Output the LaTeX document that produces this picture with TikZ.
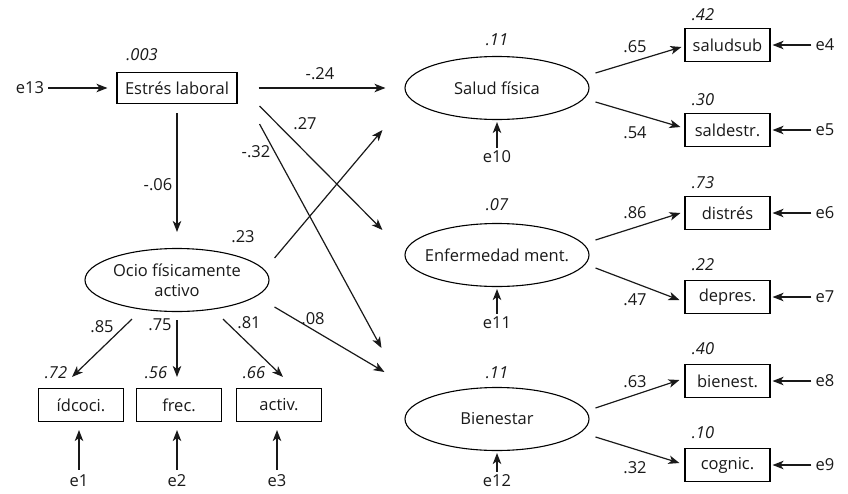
\documentclass[tikz,border=0pt]{standalone}
\usepackage{fontspec}
\setmainfont{Open Sans}
\usetikzlibrary{arrows.meta,shapes.geometric}
\begin{document}
\begin{tikzpicture}[x=1pt,y=-1pt,
  every node/.style={font=\fontsize{16.5}{20}\selectfont, text=black!90},
  box/.style={draw, line width=1.1pt, inner sep=0pt, minimum width=85pt, minimum height=33pt},
  lat/.style={draw, ellipse, line width=1.1pt, inner xsep=-14pt, inner ysep=0pt, minimum width=184pt, minimum height=63pt, align=center},
  lbl/.style={inner sep=0pt},
  rsq/.style={inner sep=0pt, font=\fontsize{16.5}{20}\selectfont\itshape},
  err/.style={inner sep=2pt},
  arr/.style={-{Stealth[length=11pt,width=8.5pt,inset=3pt]}, line width=1.2pt, black!90}]
\useasboundingbox (0,0) rectangle (848,493);

% exogenous
\node[box, minimum width=120pt, minimum height=31pt] (es) at (177,88) {Estrés laboral};
\node[err] (e13) at (30,88) {e13};
\node[rsq] (r13) at (142,55) {.003};
\node[lat] (ocio) at (177,280) {Ocio físicamente\\activo};

% endogenous latent
\node[lat] (salud) at (497,88) {Salud física};
\node[lat] (enf) at (497,255) {Enfermedad ment.};
\node[lat] (bien) at (497,419) {Bienestar};
\node[rsq] (rs) at (497,40) {.11};
\node[rsq] (re) at (497,205) {.07};
\node[rsq] (rb) at (497,373) {.11};
\node[err] (e10) at (497,157) {e10};
\node[err] (e11) at (497,323) {e11};
\node[err] (e12) at (497,481) {e12};

% right indicators
\node[box] (b4) at (727.5,45) {saludsub};
\node[box] (b5) at (727.5,130) {saldestr.};
\node[box] (b6) at (727.5,213) {distrés};
\node[box] (b7) at (727.5,297) {depres.};
\node[box] (b8) at (727.5,381) {bienest.};
\node[box] (b9) at (727.5,465) {cognic.};
\node[err] (e4) at (825,45) {e4};
\node[err] (e5) at (825,130) {e5};
\node[err] (e6) at (825,213) {e6};
\node[err] (e7) at (825,297) {e7};
\node[err] (e8) at (825,381) {e8};
\node[err] (e9) at (825,465) {e9};
\node[rsq] (r4) at (703,15) {.42};
\node[rsq] (r5) at (703,100) {.30};
\node[rsq] (r6) at (703,183) {.73};
\node[rsq] (r7) at (703,265) {.22};
\node[rsq] (r8) at (703,349) {.40};
\node[rsq] (r9) at (703,433) {.10};

% bottom indicators
\node[box] (b1) at (81,405) {ídcoci.};
\node[box] (b2) at (179,405) {frec.};
\node[box] (b3) at (279,405) {activ.};
\node[err] (e1) at (79,481) {e1};
\node[err] (e2) at (177,481) {e2};
\node[err] (e3) at (277,481) {e3};
\node[rsq] (r1) at (56,373) {.72};
\node[rsq] (r2) at (156,373) {.56};
\node[rsq] (r3) at (254,373) {.66};

% path labels
\node[lbl] (l1) at (320,74) {-.24};
\node[lbl] (l2) at (305,124) {.27};
\node[lbl] (l3) at (256,152) {-.32};
\node[lbl] (l4) at (243,237) {.23};
\node[lbl] (l5) at (313,319) {.08};
\node[lbl] (l6) at (158,185) {-.06};
\node[lbl] (l7) at (102,327) {.85};
\node[lbl] (l8) at (160,325) {.75};
\node[lbl] (l9) at (249,323) {.81};
\node[lbl] (p4) at (635,47) {.65};
\node[lbl] (p5) at (635,133) {.54};
\node[lbl] (p6) at (635,213) {.86};
\node[lbl] (p7) at (635,300) {.47};
\node[lbl] (p8) at (635,382) {.63};
\node[lbl] (p9) at (635,468) {.32};

% structural paths
\draw[arr, shorten <=2pt, shorten >=9pt] (e13) -- (es);
\draw[arr, shorten <=9pt, shorten >=16pt] (es) -- (ocio);
\draw[arr] ([shift={(21,0)}]es.east) -- ([shift={(-19,0)}]salud.west);
\draw[arr] ([shift={(22,2)}]es.south east) -- ([shift={(-22,-25)}]enf.west);
\draw[arr] ([shift={(22,20)}]es.south east) -- ([shift={(-23,-71)}]bien.west);
\draw[arr] ([shift={(5,-22)}]ocio.east) -- ([shift={(-22,42)}]salud.west);
\draw[arr] ([shift={(5,27)}]ocio.east) -- ([shift={(-20,-47)}]bien.west);

% errors on latents
\draw[arr, shorten <=1pt, shorten >=2pt] (e10) -- (salud);
\draw[arr, shorten <=1pt, shorten >=2pt] (e11) -- (enf);
\draw[arr, shorten <=1pt, shorten >=2pt] (e12) -- (bien);

% measurement paths right
\draw[arr] ([shift={(6,-15)}]salud.east) -- ([shift={(-3,2)}]b4.west);
\draw[arr] ([shift={(6,14)}]salud.east) -- ([shift={(-4,-3)}]b5.west);
\draw[arr] ([shift={(6,-15)}]enf.east) -- ([shift={(-4,0)}]b6.west);
\draw[arr] ([shift={(6,13)}]enf.east) -- ([shift={(-5,3)}]b7.west);
\draw[arr] ([shift={(6,-11)}]bien.east) -- ([shift={(-5,-1)}]b8.west);
\draw[arr] ([shift={(6,18)}]bien.east) -- ([shift={(-5,-2)}]b9.west);

% errors right
\foreach \e/\b in {e4/b4,e5/b5,e6/b6,e7/b7,e8/b8,e9/b9}
  \draw[arr, shorten <=2pt, shorten >=2pt] (\e) -- (\b);

% measurement paths bottom
\draw[arr] ([shift={(-45,7)}]ocio.south) -- ([shift={(-9,-11)}]b1.north);
\draw[arr] ([shift={(0,8)}]ocio.south) -- ([shift={(-2,-11)}]b2.north);
\draw[arr] ([shift={(46,7)}]ocio.south) -- ([shift={(4,-11)}]b3.north);

% errors bottom
\draw[arr, shorten <=3pt, shorten >=8pt] (e1) -- (e1 |- b1.south);
\draw[arr, shorten <=3pt, shorten >=8pt] (e2) -- (e2 |- b2.south);
\draw[arr, shorten <=3pt, shorten >=8pt] (e3) -- (e3 |- b3.south);
\end{tikzpicture}
\end{document}
